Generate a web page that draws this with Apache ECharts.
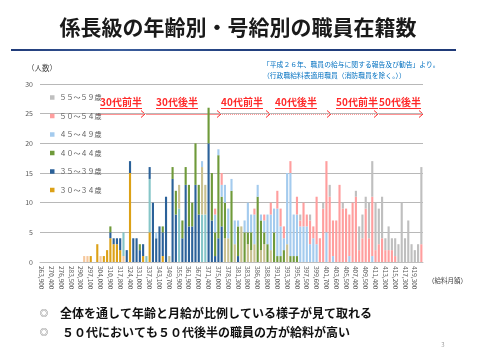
<!DOCTYPE html>
<html><head><meta charset="utf-8">
<script src="https://cdn.jsdelivr.net/npm/echarts@6/dist/echarts.min.js"></script>
<style>html,body{margin:0;padding:0;background:#fff}#c{width:480px;height:360px}</style>
</head><body><div id="c"></div>
<script>
const tickLabels = ['263,900','270,400','276,900','283,500','290,300','297,100','304,000','310,900','317,800','324,400',
'331,000','337,300','343,100','349,700','355,900','361,900','367,000','371,400','375,000','378,500',
'381,300','383,800','386,400','388,800','391,000','393,300','395,400','397,500','399,600','401,700',
'403,600','405,500','407,400','409,500','411,400','413,300','415,200','417,300','419,300'];

const legendNames = ['５５～５９歳','５０～５４歳','４５～４９歳','４０～４４歳','３５～３９歳','３０～３４歳'];

const age30 = [0,0,0,0,0,0,0,0,0,0, 0,0,0,0,0,1,0,3,0,1, 2,4,3,3,2,0,0,15,0,0, 0,1,0,5,0,0,0,1,0,0,
 0,0,0,0,0,0,0,0,0,0, 0,0,0,0,0,0,0,0,0,0, 0,0,0,0,0,0,0,0,0,0, 0,0,0,0,0,0,0,0,0,0,
 0,0,0,0,0,0,0,0,0,0, 0,0,0,0,0,0,0,0,0,0, 0,0,0,0,0,0,0,0,0,0, 0,0,0,0,0,0,0];
const age30b = [0,0,0,0,0,0,0,0,0,0, 0,0,0,1,1,0,0,0,1,0, 0,0,0,0,0,1,0,0,0,0, 0,0,0,0,0,0,0,0,0,0,
 0,0,0,0,0,0,0,0,0,0, 0,0,0,0,0,0,0,0,0,0, 0,0,0,0,0,0,0,0,0,0, 0,0,0,0,0,0,0,0,0,0,
 0,0,0,0,0,0,0,0,0,0, 0,0,0,0,0,0,0,0,0,0, 0,0,0,0,0,0,0,0,0,0, 0,0,0,0,0,0,0];
const age35b = [0,0,0,0,0,0,0,0,0,0, 0,0,0,0,0,0,0,0,0,0, 0,0,0,0,0,4,0,0,0,0, 0,0,1,9,0,0,0,0,0,0,
 0,0,9,0,0,0,0,0,0,8, 8,0,0,0,0,0,0,0,0,0, 0,0,0,0,0,0,0,0,0,0, 0,0,0,0,0,0,0,0,0,0,
 0,0,0,0,0,0,0,0,0,0, 0,0,0,0,0,0,0,0,0,0, 0,0,0,0,0,0,0,0,0,0, 0,0,0,0,0,0,0];
const age35 = [0,0,0,0,0,0,0,0,0,0, 0,0,0,0,0,0,0,0,0,0, 0,1,1,1,2,0,2,2,4,4, 2,2,0,2,10,4,6,4,11,0,
 14,8,0,4,13,6,6,13,8,0, 0,20,7,1,4,6,0,0,0,0, 1,0,0,0,0,0,0,0,0,0, 0,0,0,0,0,0,0,0,0,0,
 0,0,0,0,0,0,0,0,0,0, 0,0,0,0,0,0,0,0,0,0, 0,0,0,0,0,0,0,0,0,0, 0,0,0,0,0,0,0];
const age40b = [0,0,0,0,0,0,0,0,0,0, 0,0,0,0,0,0,0,0,0,0, 0,0,0,0,0,0,0,0,0,0, 0,0,0,0,0,0,0,0,0,1,
 0,0,4,0,0,0,0,0,0,8, 5,0,0,0,0,0,4,4,0,3, 0,6,0,3,2,3,0,2,3,0, 2,0,0,0,0,3,0,0,0,0,
 0,0,0,0,0,0,0,0,0,0, 0,0,0,0,0,0,0,0,0,0, 0,0,0,0,0,0,0,0,0,0, 0,0,0,0,0,0,0];
const age40 = [0,0,0,0,0,0,0,0,0,0, 0,0,0,0,0,0,0,0,0,0, 0,1,0,0,0,0,0,0,0,0, 1,0,0,0,0,0,0,1,0,0,
 2,4,0,3,3,7,4,7,5,0, 0,6,8,4,14,5,6,0,12,0, 5,0,5,2,3,0,11,5,2,3, 0,5,1,1,2,0,1,1,1,0,
 0,0,0,0,0,0,0,0,0,0, 0,0,0,0,0,0,0,0,0,0, 0,0,0,0,0,0,0,0,0,0, 0,0,0,0,0,0,0];
const age45 = [0,0,0,0,0,0,0,0,0,0, 0,0,0,0,0,0,0,0,0,0, 0,0,0,0,0,0,0,0,0,0, 0,0,0,0,0,1,0,0,0,0,
 0,0,0,0,0,0,0,0,0,1, 0,0,0,3,1,2,3,5,2,4, 1,0,2,5,3,5,2,1,2,5, 6,4,8,5,2,12,14,7,7,6,
 6,6,3,4,3,0,0,5,0,1, 0,0,0,0,1,0,0,0,0,0, 0,1,0,0,0,0,0,0,0,0, 0,0,0,0,0,0,0];
const age50 = [0,0,0,0,0,0,0,0,0,0, 0,0,0,0,0,0,0,0,0,0, 0,0,0,0,0,0,0,0,0,0, 0,0,0,0,0,0,0,0,0,0,
 0,0,0,0,0,0,0,0,0,0, 0,0,0,1,0,2,0,0,0,0, 0,0,0,0,0,1,0,0,1,0, 2,0,3,3,2,0,2,0,3,1,
 4,2,4,2,8,4,9,12,11,6, 7,13,9,9,7,10,11,2,4,9, 4,10,2,3,4,2,2,2,1,0, 0,0,0,0,0,0,3];
const age55 = [0,0,0,0,0,0,0,0,0,0, 0,0,0,0,0,0,0,0,0,0, 0,0,0,0,0,0,0,0,0,0, 0,0,0,0,0,0,0,0,0,0,
 0,0,0,0,0,0,0,0,0,0, 0,0,0,0,0,0,0,0,0,0, 0,0,0,0,0,0,0,0,0,0, 0,0,0,0,0,0,0,0,0,1,
 0,0,1,0,0,0,1,0,2,0, 0,0,1,0,0,0,1,4,4,2, 6,6,8,6,7,2,4,2,3,3, 10,4,7,3,2,3,13];

const categories = [];
tickLabels.forEach(t => { categories.push(t, '', ''); });

const FONT = '"Noto Sans CJK JP", "Noto Sans", sans-serif';
const RED = '#ff2a2a';

const seriesDefs = [
  {name: '３０～３４歳', data: age30, color: '#dca117'},
  {name: '３０～３４歳 ', data: age30b, color: '#f6c79b'},
  {name: '３５～３９歳 ', data: age35b, color: '#86c6c8'},
  {name: '３５～３９歳', data: age35, color: '#2b6199'},
  {name: '４０～４４歳 ', data: age40b, color: '#c9c191'},
  {name: '４０～４４歳', data: age40, color: '#6f9a3a'},
  {name: '４５～４９歳', data: age45, color: '#a4cbee'},
  {name: '５０～５４歳', data: age50, color: '#ff9e9e'},
  {name: '５５～５９歳', data: age55, color: '#bfbfbf'}
];

function txt(x, y, text, size, fill, opts) {
  opts = opts || {};
  return {type: 'text', x: x, y: y, silent: true, style: Object.assign({
    text: text, fill: fill, font: (opts.weight || 'normal') + ' ' + size + 'px ' + FONT,
    textAlign: opts.align || 'left', align: opts.align || 'left',
    textVerticalAlign: 'middle', verticalAlign: 'middle'
  }, opts.extra || {})};
}
function arrow(x1, x2, y, dashed) {
  return [
    {type: 'line', silent: true, shape: {x1: x1, y1: y, x2: x2, y2: y},
     style: {stroke: RED, lineWidth: 1, lineDash: dashed ? [1, 1] : null}},
    {type: 'polyline', silent: true, shape: {points: [[x2 - 4, y - 3.5], [x2, y], [x2 - 4, y + 3.5]]},
     style: {stroke: RED, lineWidth: 1, fill: null}}
  ];
}
const periodLabels = [
  {t: '30代前半', cx: 121}, {t: '30代後半', cx: 177}, {t: '40代前半', cx: 242},
  {t: '40代後半', cx: 296}, {t: '50代前半', cx: 357}, {t: '50代後半', cx: 400}
];
const graphics = [];
graphics.push(txt(238, 27, '係長級の年齢別・号給別の職員在籍数', 21, '#1a1a1a', {weight: 'bold', align: 'center'}));
graphics.push({type: 'line', silent: true, shape: {x1: 11, y1: 50, x2: 456, y2: 50},
  style: {lineWidth: 2, stroke: new echarts.graphic.LinearGradient(0, 0, 1, 0, [
    {offset: 0, color: '#1f3a78'}, {offset: 0.25, color: '#3b5d9c'}, {offset: 0.5, color: '#22407f'}, {offset: 1, color: '#1f3a78'}])}});
graphics.push(txt(27, 68, '（人数）', 7.5, '#404040'));
graphics.push(txt(263, 64, '「平成２６年、職員の給与に関する報告及び勧告」より。', 6.8, '#0070c0'));
graphics.push(txt(263, 75, '（行政職給料表適用職員（消防職員を除く。））', 6.8, '#0070c0'));
graphics.push(txt(428, 281, '（給料月額）', 6.5, '#404040'));
periodLabels.forEach(p => {
  graphics.push(txt(p.cx, 102, p.t, 10, RED, {weight: 'bold', align: 'center'}));
  graphics.push({type: 'line', silent: true, shape: {x1: p.cx - 21, y1: 108.5, x2: p.cx + 21, y2: 108.5},
    style: {stroke: RED, lineWidth: 1}});
});
[[97, 145, false], [146, 221, false], [222, 270, true], [271, 331, true], [332, 378, true], [379, 423, false]]
  .forEach(a => arrow(a[0], a[1], 114, a[2]).forEach(g => graphics.push(g)));
graphics.push(txt(44, 313, '◎', 8, '#555', {align: 'center'}));
graphics.push(txt(60, 313, '全体を通して年齢と月給が比例している様子が見て取れる', 12, '#111', {weight: 'bold'}));
graphics.push(txt(44, 332, '◎', 8, '#555', {align: 'center'}));
graphics.push(txt(62, 332, '５０代においても５０代後半の職員の方が給料が高い', 12, '#111', {weight: 'bold'}));
graphics.push(txt(443, 345, '3', 6, '#a0a0a0', {align: 'center'}));

const chart = echarts.init(document.getElementById('c'), null, {renderer: 'canvas'});
chart.setOption({
  animation: false,
  textStyle: {fontFamily: FONT},
  grid: {left: 40, right: 57, top: 84, bottom: 98, containLabel: false},
  legend: {
    data: legendNames, orient: 'vertical', left: 45, top: 88,
    itemWidth: 4.5, itemHeight: 4.5, itemGap: 9.5, icon: 'rect',
    textStyle: {fontSize: 7, color: '#595959', fontFamily: FONT, lineHeight: 9}
  },
  xAxis: {
    type: 'category', data: categories,
    axisLine: {lineStyle: {color: '#bfbfbf'}},
    axisTick: {show: false},
    axisLabel: {interval: 2, rotate: -90, fontSize: 6.5, color: '#595959', margin: 4, fontFamily: FONT}
  },
  yAxis: {
    type: 'value', min: 0, max: 30, interval: 5,
    axisLine: {show: false}, axisTick: {show: false},
    axisLabel: {fontSize: 7, color: '#595959', margin: 7, fontFamily: FONT},
    splitLine: {lineStyle: {color: '#b8b8b8', width: 1}}
  },
  series: seriesDefs.map(s => ({
    type: 'bar', name: s.name, stack: 'age', data: s.data,
    itemStyle: {color: s.color}, barCategoryGap: '35%'
  })),
  graphic: {elements: graphics}
});
</script></body></html>
